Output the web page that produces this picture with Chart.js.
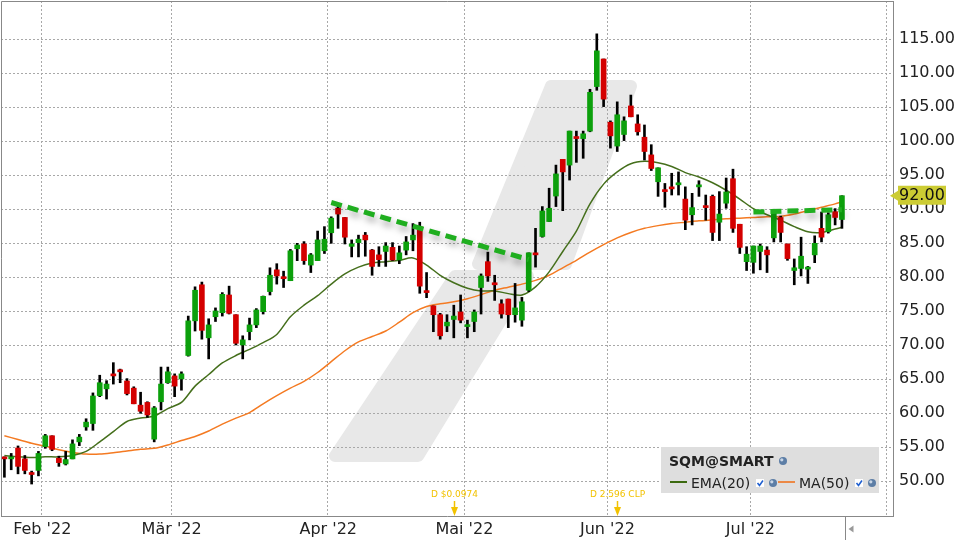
<!DOCTYPE html>
<html>
<head>
<meta charset="utf-8">
<script src="https://cdn.jsdelivr.net/npm/chart.js@4.4.1/dist/chart.umd.min.js"></script>
<style>
  html, body { margin: 0; padding: 0; background: #fff; }
</style>
</head>
<body>
<canvas id="chart" width="960" height="540"></canvas>
<script>
// trading days from 24 Jan 2022, US market holidays skipped
const holidays = ["2022-02-21", "2022-04-15", "2022-05-30", "2022-06-20", "2022-07-04"];
const monthNames = ["Jan", "Feb", "Mär", "Apr", "Mai", "Jun", "Jul", "Aug"];
const dayCount = 131; // 124 candles + empty days up to 1 Aug

// OHLC, one value per trading day (24 Jan .. 21 Jul 2022)
const opens = [53.5, 53.3, 54.9, 53.3, 51.2, 51.6, 55.1, 56.7, 53.4, 52.55,
  53.3, 55.8, 58.0, 58.5, 62.6, 63.6, 65.8, 66.4, 64.75, 63.7,
  61.2, 61.6, 56.2, 61.7, 64.5, 65.5, 65.05, 68.5, 73.6, 78.9,
  71.1, 74.2, 74.8, 77.4, 74.5, 70.05, 72.0, 73.0, 74.95, 77.9,
  81.1, 80.05, 79.5, 84.2, 84.9, 81.8, 82.45, 83.9, 86.55, 90.15,
  88.8, 84.55, 85.1, 86.2, 84.0, 83.3, 83.8, 84.4, 82.55, 84.0,
  85.5, 87.45, 78.0, 75.8, 74.5, 72.85, 73.8, 74.9, 72.75, 73.5,
  78.5, 82.3, 79.2, 76.1, 76.8, 74.5, 73.7, 78.1, 83.6, 86.0,
  88.2, 91.95, 97.35, 96.5, 100.7, 100.4, 101.5, 108.05, 112.1, 102.8,
  99.3, 101.0, 105.2, 102.55, 100.6, 98.0, 94.05, 92.85, 93.3, 93.6,
  91.5, 89.2, 93.3, 90.5, 91.9, 88.1, 90.9, 94.5, 87.8, 82.3,
  82.2, 83.8, 84.0, 85.8, 88.8, 84.9, 81.0, 81.3, 81.2, 83.3,
  87.2, 86.7, 89.65, 88.5];
const highs = [53.6, 54.1, 55.2, 53.8, 51.5, 54.4, 56.9, 56.7, 53.7, 54.4,
  56.1, 56.9, 59.2, 63.0, 65.6, 64.8, 67.45, 66.5, 65.1, 63.9,
  63.1, 61.7, 61.0, 66.8, 66.8, 65.8, 66.1, 74.3, 78.6, 79.3,
  73.9, 75.5, 77.75, 78.7, 74.5, 71.4, 74.0, 75.4, 77.25, 81.4,
  82.0, 80.9, 84.1, 85.0, 85.25, 83.5, 86.8, 87.45, 88.9, 90.6,
  88.8, 85.5, 86.2, 86.6, 84.1, 84.5, 85.1, 85.1, 84.6, 86.0,
  87.9, 88.1, 80.7, 75.8, 74.7, 74.5, 75.9, 77.4, 73.7, 75.2,
  80.5, 83.7, 80.3, 76.7, 76.8, 79.1, 77.05, 83.6, 87.2, 90.4,
  93.1, 96.5, 97.35, 101.5, 101.5, 101.5, 107.65, 115.8, 112.1, 103.0,
  105.8, 103.6, 106.8, 103.9, 102.4, 99.5, 96.1, 93.8, 95.3, 95.5,
  93.3, 92.35, 94.2, 92.1, 92.1, 92.6, 94.6, 95.9, 87.8, 84.5,
  84.6, 84.9, 84.5, 90.0, 89.0, 84.9, 82.7, 85.9, 81.6, 86.1,
  89.6, 89.5, 90.1, 92.0];
const lows = [50.6, 51.7, 51.1, 51.1, 49.6, 50.8, 54.85, 54.5, 52.2, 52.4,
  53.3, 55.25, 57.5, 57.5, 62.45, 62.1, 64.3, 64.5, 62.7, 61.4,
  60.0, 59.4, 55.8, 60.5, 64.4, 62.45, 63.4, 68.4, 72.1, 70.9,
  68.0, 73.5, 74.3, 74.6, 70.05, 68.0, 70.8, 72.6, 74.6, 77.4,
  79.0, 78.5, 79.5, 82.45, 81.9, 80.7, 82.45, 83.5, 85.0, 87.2,
  84.9, 83.0, 83.0, 83.1, 80.3, 81.6, 81.6, 82.45, 82.0, 83.3,
  83.9, 77.65, 77.0, 72.0, 70.9, 72.0, 71.1, 73.3, 71.1, 72.0,
  74.6, 79.4, 76.6, 74.0, 72.6, 73.4, 72.8, 77.9, 81.5, 85.9,
  88.2, 90.4, 89.8, 94.3, 96.9, 97.5, 101.4, 107.5, 105.1, 99.0,
  98.5, 100.1, 103.6, 100.9, 97.25, 95.7, 91.9, 90.3, 92.1, 92.1,
  87.0, 87.7, 91.9, 88.4, 85.4, 85.4, 90.15, 86.6, 83.5, 81.0,
  80.6, 81.1, 80.7, 85.2, 85.2, 82.5, 78.9, 80.2, 79.1, 82.15,
  85.2, 86.5, 87.7, 87.2];
const closes = [53.3, 53.5, 52.2, 51.6, 51.0, 54.1, 56.7, 54.7, 52.75, 53.2,
  55.5, 56.5, 58.7, 62.55, 64.5, 64.3, 65.5, 66.1, 62.9, 61.4,
  60.3, 59.75, 60.8, 64.3, 66.1, 64.0, 65.8, 73.6, 78.1, 72.2,
  73.0, 75.05, 77.5, 74.7, 70.3, 70.8, 73.0, 75.2, 77.2, 80.3,
  80.2, 79.8, 83.9, 84.75, 82.45, 83.3, 85.5, 85.6, 88.7, 89.3,
  85.9, 84.9, 85.6, 85.5, 81.6, 82.6, 84.6, 82.55, 83.6, 85.2,
  86.2, 78.7, 77.75, 74.5, 71.4, 73.4, 74.3, 73.7, 73.0, 74.9,
  80.2, 80.2, 78.9, 74.6, 74.5, 75.5, 76.4, 83.6, 83.3, 89.75,
  90.15, 95.2, 95.5, 101.5, 100.4, 101.1, 107.2, 113.3, 106.2, 100.8,
  103.9, 103.0, 103.6, 101.4, 98.5, 96.0, 96.1, 92.6, 93.0, 93.9,
  88.4, 90.25, 93.6, 90.25, 86.6, 89.3, 92.55, 87.2, 84.4, 83.4,
  84.6, 84.6, 83.3, 89.5, 86.6, 82.75, 81.4, 83.1, 81.4, 85.0,
  85.9, 89.2, 88.8, 92.0];

// indicator lines every second day
const ema20 = [53.8, null, 53.6, null, 53.5, null, 53.6, null, 53.6, null,
  53.8, null, 54.4, null, 55.8, null, 57.3, null, 58.8, null,
  59.3, null, 59.6, null, 60.7, null, 61.6, null, 64.0, null,
  65.7, null, 67.4, null, 68.5, null, 69.4, null, 70.4, null,
  71.6, null, 74.2, null, 75.9, null, 77.3, null, 79.0, null,
  80.5, null, 81.5, null, 82.1, null, 82.3, null, 82.5, null,
  82.85, null, 81.8, null, 80.3, null, 79.2, null, 78.4, null,
  78.0, null, 78.0, null, 77.6, null, 77.4, null, 78.6, null,
  80.8, null, 83.8, null, 86.8, null, 90.8, null, 93.7, null,
  95.5, null, 96.7, null, 97.05, null, 96.85, null, 96.3, null,
  95.4, null, 94.75, null, 93.9, null, 92.8, null, 91.5, null,
  90.1, null, 89.2, null, 88.4, null, 87.45, null, 86.7, null,
  86.6, null, 87.1, 87.35];
const ma50 = [56.7, null, 56.15, null, 55.6, null, 55.15, null, 54.65, null,
  54.25, null, 54.0, null, 54.0, null, 54.2, null, 54.45, null,
  54.7, null, 54.85, null, 55.35, null, 56.0, null, 56.6, null,
  57.4, null, 58.4, null, 59.3, null, 60.1, null, 61.4, null,
  62.6, null, 63.7, null, 64.7, null, 66.0, null, 67.6, null,
  69.2, null, 70.5, null, 71.3, null, 72.1, null, 73.4, null,
  74.8, null, 75.7, null, 76.1, null, 76.4, null, 76.85, null,
  77.45, null, 78.1, null, 78.55, null, 79.0, null, 79.55, null,
  80.3, null, 81.4, null, 82.5, null, 83.7, null, 84.8, null,
  85.8, null, 86.6, null, 87.2, null, 87.6, null, 87.9, null,
  88.1, null, 88.3, null, 88.45, null, 88.6, null, 88.7, null,
  88.8, null, 88.9, null, 88.95, null, 89.3, null, 89.8, null,
  90.3, null, 90.8, 91.1];

// hand drawn trend lines (day index, price)
const trend1Idx = [48, 77];
const trend1Val = [91.0, 82.6];
const trend2Idx = [110, 123];
const trend2Val = [89.6, 89.95];

// dividends
const divIdx = [66, 90];
const divText = ["D $0.0974", "D 2.596 CLP"];

const yMin = 44.9;
const yMax = 120.63;
const yLabelMin = 50;
const yLabelMax = 115;

const green = "#0ca00c";
const red = "#d40000";
const font = "DejaVu Sans";

// build day labels
const days = [];
const d = new Date(Date.UTC(2022, 0, 24));
while (days.length < dayCount) {
  const wd = d.getUTCDay();
  const s = d.toISOString().slice(0, 10);
  if (wd !== 0 && wd !== 6 && !holidays.includes(s)) days.push(s);
  d.setUTCDate(d.getUTCDate() + 1);
}
function isMonthStart(i) {
  return i > 0 && i < days.length && days[i].slice(5, 7) !== days[i - 1].slice(5, 7);
}

const bodies = opens.map((o, i) => [Math.min(o, closes[i]), Math.max(o, closes[i])]);
const bodyColors = opens.map((o, i) => (closes[i] >= o ? green : red));
const wicks = lows.map((l, i) => [l, highs[i]]);

function trendData(idx, val) {
  const arr = closes.map(() => null);
  idx.forEach((k, j) => { arr[k] = val[j]; });
  return arr;
}

function globe(ctx, x, y) {
  ctx.fillStyle = "#5d7ea6";
  ctx.beginPath();
  ctx.arc(x, y, 4, 0, Math.PI * 2);
  ctx.fill();
  ctx.fillStyle = "#c9d6e6";
  ctx.beginPath();
  ctx.arc(x - 1.2, y - 1.2, 1.6, 0, Math.PI * 2);
  ctx.fill();
}
function checkbox(ctx, x, y) {
  ctx.fillStyle = "#fff";
  ctx.fillRect(x, y, 8, 8);
  ctx.strokeStyle = "#1f5fd0";
  ctx.lineWidth = 1.6;
  ctx.beginPath();
  ctx.moveTo(x + 1.5, y + 4);
  ctx.lineTo(x + 3.5, y + 6.5);
  ctx.lineTo(x + 7, y + 1.5);
  ctx.stroke();
}

const decor = {
  id: "decor",
  beforeDraw(chart) {
    const { ctx, chartArea: a } = chart;
    ctx.save();
    ctx.fillStyle = "#fff";
    ctx.fillRect(0, 0, chart.width, chart.height);
    // watermark logo
    ctx.beginPath();
    ctx.rect(a.left, a.top, a.right - a.left, a.bottom - a.top);
    ctx.clip();
    ctx.fillStyle = "#e8e8e8";
    ctx.strokeStyle = "#e8e8e8";
    ctx.lineWidth = 12;
    ctx.lineJoin = "round";
    const shapes = [
      [[551, 86], [631, 86], [566, 264], [478, 264]],
      [[455, 276], [528, 276], [418, 456], [335, 456]]
    ];
    shapes.forEach(p => {
      ctx.beginPath();
      ctx.moveTo(p[0][0], p[0][1]);
      for (let k = 1; k < p.length; k++) ctx.lineTo(p[k][0], p[k][1]);
      ctx.closePath();
      ctx.fill();
      ctx.stroke();
    });
    ctx.restore();
  },
  beforeDatasetDraw(chart, args) {
    if (args.meta._dataset.isTrend) {
      const ctx = chart.ctx;
      ctx.save();
      ctx.shadowColor = "rgba(0,0,0,0.35)";
      ctx.shadowBlur = 7;
      ctx.shadowOffsetY = 5;
      ctx.shadowOffsetX = 2;
    }
  },
  afterDatasetDraw(chart, args) {
    if (args.meta._dataset.isTrend) chart.ctx.restore();
  },
  afterDraw(chart) {
    const { ctx, chartArea: a } = chart;
    const xs = chart.scales.x;
    const ys = chart.scales.y;
    ctx.save();
    // top and left frame
    ctx.strokeStyle = "#888";
    ctx.lineWidth = 1;
    ctx.beginPath();
    ctx.moveTo(a.left + 0.5, a.bottom);
    ctx.lineTo(a.left + 0.5, a.top + 0.5);
    ctx.lineTo(a.right, a.top + 0.5);
    ctx.stroke();

    // last bar marker below the axis
    const step = xs.getPixelForValue(1) - xs.getPixelForValue(0);
    const lx = Math.round(xs.getPixelForValue(closes.length - 1) + step / 2) + 0.5;
    ctx.beginPath();
    ctx.moveTo(lx, a.bottom);
    ctx.lineTo(lx, chart.height);
    ctx.stroke();
    ctx.fillStyle = "#999";
    ctx.beginPath();
    ctx.moveTo(lx + 3, 529);
    ctx.lineTo(lx + 8, 525.5);
    ctx.lineTo(lx + 8, 532.5);
    ctx.closePath();
    ctx.fill();

    // dividend markers
    ctx.fillStyle = "#f2c200";
    ctx.strokeStyle = "#f2c200";
    ctx.font = "9px '" + font + "'";
    ctx.textAlign = "center";
    ctx.textBaseline = "alphabetic";
    divIdx.forEach((k, j) => {
      const x = Math.round(xs.getPixelForValue(k)) + 0.5;
      ctx.fillText(divText[j], x, 497);
      ctx.lineWidth = 1.5;
      ctx.beginPath();
      ctx.moveTo(x, 501);
      ctx.lineTo(x, 509);
      ctx.stroke();
      ctx.beginPath();
      ctx.moveTo(x - 3.5, 507);
      ctx.lineTo(x + 3.5, 507);
      ctx.lineTo(x, a.bottom);
      ctx.closePath();
      ctx.fill();
    });

    // last price tag
    const last = closes[closes.length - 1];
    const py = ys.getPixelForValue(last);
    ctx.fillStyle = "#cccc33";
    ctx.beginPath();
    ctx.moveTo(a.right - 3, py);
    ctx.lineTo(a.right + 5, py - 5);
    ctx.lineTo(a.right + 5, py - 10);
    ctx.lineTo(a.right + 53, py - 10);
    ctx.lineTo(a.right + 53, py + 9);
    ctx.lineTo(a.right + 5, py + 9);
    ctx.lineTo(a.right + 5, py + 5);
    ctx.closePath();
    ctx.fill();
    ctx.fillStyle = "#111";
    ctx.font = "16px '" + font + "'";
    ctx.textAlign = "left";
    ctx.textBaseline = "middle";
    ctx.fillText(last.toFixed(2), a.right + 6, py + 0.5);

    // legend box
    ctx.fillStyle = "#dedede";
    ctx.fillRect(661, 447, 218, 46);
    ctx.fillStyle = "#222";
    ctx.textBaseline = "alphabetic";
    ctx.font = "bold 14px '" + font + "'";
    ctx.fillText("SQM@SMART", 669, 466);
    globe(ctx, 783, 461);
    ctx.font = "14px '" + font + "'";
    ctx.lineWidth = 2;
    ctx.strokeStyle = "#3c6a10";
    ctx.beginPath();
    ctx.moveTo(670, 482);
    ctx.lineTo(687, 482);
    ctx.stroke();
    ctx.fillStyle = "#222";
    ctx.fillText("EMA(20)", 691, 488);
    checkbox(ctx, 756, 479);
    globe(ctx, 773, 483);
    ctx.strokeStyle = "#f07420";
    ctx.beginPath();
    ctx.moveTo(778, 482);
    ctx.lineTo(795, 482);
    ctx.stroke();
    ctx.fillStyle = "#222";
    ctx.fillText("MA(50)", 799, 488);
    checkbox(ctx, 855, 479);
    globe(ctx, 872, 483);
    ctx.restore();
  }
};

new Chart(document.getElementById("chart"), {
  type: "bar",
  data: {
    labels: days,
    datasets: [
      {
        type: "line",
        isTrend: true,
        data: trendData(trend1Idx, trend1Val),
        borderColor: "#1fae1f",
        borderWidth: 5,
        borderDash: [11, 6],
        pointRadius: 0,
        spanGaps: true,
        order: 0
      },
      {
        type: "line",
        isTrend: true,
        data: trendData(trend2Idx, trend2Val),
        borderColor: "#1fae1f",
        borderWidth: 5,
        borderDash: [11, 6],
        pointRadius: 0,
        spanGaps: true,
        order: 0
      },
      {
        data: bodies,
        backgroundColor: bodyColors,
        barThickness: 5,
        minBarLength: 2,
        grouped: false,
        order: 1
      },
      {
        data: wicks,
        backgroundColor: "#000",
        barThickness: 2,
        grouped: false,
        order: 2
      },
      {
        type: "line",
        data: ema20,
        borderColor: "#456f1c",
        borderWidth: 1.5,
        pointRadius: 0,
        tension: 0.3,
        spanGaps: true,
        order: 3
      },
      {
        type: "line",
        data: ma50,
        borderColor: "#f47a22",
        borderWidth: 1.5,
        pointRadius: 0,
        tension: 0.3,
        spanGaps: true,
        order: 4
      }
    ]
  },
  options: {
    responsive: false,
    animation: false,
    layout: { padding: { top: 1, left: 1, right: 0, bottom: 0 } },
    plugins: {
      legend: { display: false },
      tooltip: { enabled: false }
    },
    scales: {
      x: {
        type: "category",
        offset: true,
        grid: {
          offset: true,
          drawTicks: false,
          lineWidth: 1,
          color: (c) => (c.tick && isMonthStart(c.index) ? "#a8a8a8" : "rgba(0,0,0,0)")
        },
        border: { color: "#888", dash: [2, 2] },
        ticks: {
          autoSkip: false,
          maxRotation: 0,
          padding: 4,
          labelOffset: -3,
          color: "#222",
          font: { family: font, size: 16 },
          callback: (v, i) => {
            if (!isMonthStart(i) || days[i].slice(5, 7) === "08") return "";
            return monthNames[+days[i].slice(5, 7) - 1] + " '22";
          }
        },
        afterFit: (s) => {
          s.height = 24;
          s.paddingLeft = 0;
          s.paddingRight = 0;
        }
      },
      y: {
        position: "right",
        min: yMin,
        max: yMax,
        grid: { drawTicks: false, color: "#a8a8a8" },
        border: { color: "#888", dash: [2, 2] },
        ticks: {
          stepSize: 5,
          includeBounds: false,
          padding: 6,
          color: "#222",
          font: { family: font, size: 16 },
          callback: (v) => v.toFixed(2)
        },
        afterBuildTicks: (s) => {
          s.ticks = s.ticks.filter(t => t.value >= yLabelMin && t.value <= yLabelMax);
        },
        afterFit: (s) => {
          s.width = 67;
          s.paddingTop = 0;
          s.paddingBottom = 0;
        }
      }
    }
  },
  plugins: [decor]
});
</script>
</body>
</html>
